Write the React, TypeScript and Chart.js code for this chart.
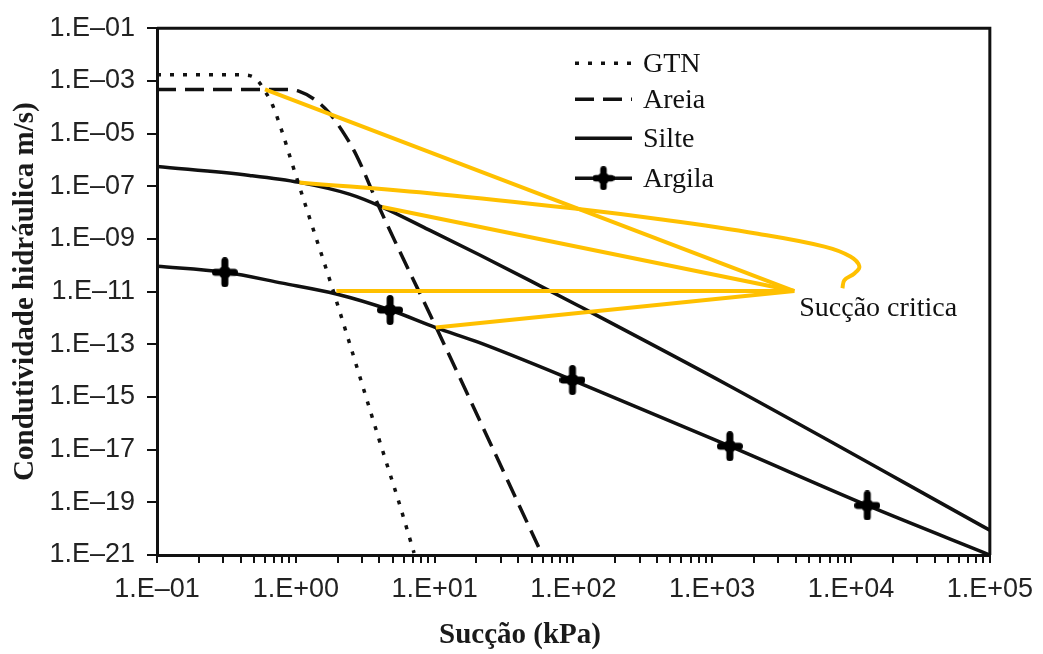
import { useEffect, useRef } from 'react';
import { Chart, registerables } from 'chart.js';

Chart.register(...registerables);

// Suction (kPa) and hydraulic conductivity (m/s)
const gtnSuction = [0.1, 0.363, 0.465, 0.531, 0.596, 0.681, 0.802, 0.946, 1.25, 1.75, 2.43, 3.98, 5.54, 7.11];
const gtnK = [1.72e-3, 1.72e-3, 1.58e-3, 1.03e-3, 4.3e-4, 1.18e-4, 1.05e-5, 6.6e-7, 6.8e-9, 2.95e-11, 1.17e-13, 2.45e-17, 9.8e-20, 1.2e-21];

const areiaSuction = [0.1, 0.83, 1.06, 1.36, 1.75, 2.16, 2.72, 3.98, 11.3, 56.1];
const areiaK = [4.72e-4, 4.72e-4, 4.0e-4, 2.0e-4, 5.9e-5, 1.26e-5, 1.58e-6, 1.62e-8, 1.5e-13, 2.0e-21];

const silteSuction = [0.1, 0.465, 1.06, 2.43, 4.19, 9.1, 20.8, 47.5, 108.7, 1294, 100000];
const silteK = [5.6e-7, 2.57e-7, 1.4e-7, 5.0e-8, 1.62e-8, 2.2e-9, 2.55e-10, 2.8e-11, 2.9e-12, 2.85e-15, 8.7e-21];

const argilaSuction = [0.1, 0.308, 0.8, 1.96, 4.78, 10.2, 20.8, 98.4, 1340, 13100, 100000];
const argilaK = [9.1e-11, 5.4e-11, 2.1e-11, 8.1e-12, 2.0e-12, 4.3e-13, 1.17e-13, 4.4e-15, 1.35e-17, 7.6e-20, 1e-21];

// Measured points on the clay curve
const argilaMarkSuction = [0.308, 4.78, 98.4, 1340, 13100];
const argilaMarkK = [5.4e-11, 2.0e-12, 4.4e-15, 1.35e-17, 7.6e-20];

// Critical suction: the point where the highlighted lines meet
const criticalSuction = 3900;
const criticalK = 1.05e-11;
const criticalFromSuction = [0.6, 4.19, 1.96, 10.2];
const criticalFromK = [4.72e-4, 1.62e-8, 1.05e-11, 4.3e-13];

// Hand-drawn curved pointer that ends next to the label
const hookSuction = [1.06, 10.7, 108.7, 407, 2128, 6440, 9890, 11480, 10570, 8950, 8670];
const hookK = [1.4e-7, 5.0e-8, 1.36e-8, 5.7e-9, 1.57e-9, 5.1e-10, 2.15e-10, 9.1e-11, 4.9e-11, 2.7e-11, 1.35e-11];

// Axis tick exponents
const kTickExponents = [-1, -3, -5, -7, -9, -11, -13, -15, -17, -19, -21];
const suctionDecades = [-1, 0, 1, 2, 3, 4, 5];

const legendLabels = ['GTN', 'Areia', 'Silte', 'Argila'];

const INK = '#111111';
const HIGHLIGHT = '#FFC000';
const CURVE_WIDTH = 3.5;
const DOTTED = [4, 9];
const DASHED = [19, 9];

const sciLabel = (exp: number) =>
  '1.E' + (exp < 0 ? '–' : '+') + String(Math.abs(exp)).padStart(2, '0');

const pairs = (xs: number[], ys: number[]) => xs.map((x, i) => ({ x, y: ys[i] }));

function plusMarker(w: number, h: number, bar: number) {
  const c = document.createElement('canvas');
  c.width = w;
  c.height = h;
  const g = c.getContext('2d')!;
  g.strokeStyle = '#000';
  g.fillStyle = '#000';
  g.lineCap = 'round';
  g.lineWidth = bar;
  g.beginPath();
  g.moveTo(w / 2, bar / 2);
  g.lineTo(w / 2, h - bar / 2);
  g.moveTo(bar / 2, h / 2);
  g.lineTo(w - bar / 2, h / 2);
  g.stroke();
  g.beginPath();
  g.arc(w / 2, h / 2, bar * 0.9, 0, Math.PI * 2);
  g.fill();
  return c;
}

export default function App() {
  const canvasRef = useRef<HTMLCanvasElement | null>(null);

  useEffect(() => {
    document.body.style.margin = '0';
    const canvas = canvasRef.current;
    if (!canvas) return;

    const marker = plusMarker(26, 30, 7);
    const legendMarker = plusMarker(22, 24, 6.5);

    const criticalLines = criticalFromSuction.map((s, i) => ({
      type: 'line' as const,
      data: [
        { x: s, y: criticalFromK[i] },
        { x: criticalSuction, y: criticalK },
      ],
      borderColor: HIGHLIGHT,
      borderWidth: 4,
      pointRadius: 0,
      order: 0,
    }));

    const decorations = {
      id: 'decorations',
      afterDraw(chart: any) {
        const { ctx, chartArea: a } = chart;
        ctx.save();

        // top and right edges of the plot frame
        ctx.strokeStyle = INK;
        ctx.lineWidth = 3;
        ctx.beginPath();
        ctx.moveTo(a.left, a.top);
        ctx.lineTo(a.right, a.top);
        ctx.lineTo(a.right, a.bottom);
        ctx.stroke();

        // legend
        const rows = [35, 71, 110, 150];
        const x0 = a.left + 418;
        const x1 = a.left + 475;
        ctx.font = '28px "Liberation Serif", "Times New Roman", serif';
        ctx.textAlign = 'left';
        ctx.textBaseline = 'alphabetic';
        legendLabels.forEach((label, i) => {
          const y = a.top + rows[i];
          ctx.strokeStyle = INK;
          ctx.lineWidth = CURVE_WIDTH;
          ctx.setLineDash(i === 0 ? DOTTED : i === 1 ? DASHED : []);
          ctx.beginPath();
          ctx.moveTo(x0, y);
          ctx.lineTo(x1, y);
          ctx.stroke();
          ctx.setLineDash([]);
          if (i === 3) {
            ctx.drawImage(legendMarker, (x0 + x1) / 2 - legendMarker.width / 2, y - legendMarker.height / 2);
          }
          ctx.fillStyle = INK;
          ctx.fillText(label, x1 + 11, y + 9);
        });

        // critical suction label
        const px = chart.scales.x.getPixelForValue(criticalSuction);
        const py = chart.scales.y.getPixelForValue(criticalK);
        ctx.fillText('Sucção critica', px + 5, py + 25);

        // axis titles
        ctx.fillStyle = '#1a1a1a';
        ctx.font = 'bold 29px "Liberation Serif", "Times New Roman", serif';
        ctx.textAlign = 'center';
        ctx.fillText('Sucção (kPa)', 520, 643);

        ctx.translate(33, (a.top + a.bottom) / 2);
        ctx.rotate(-Math.PI / 2);
        ctx.fillText('Condutividade hidráulica m/s)', 0, 0);

        ctx.restore();
      },
    };

    const tickFont = { family: '"Liberation Sans", Arial, Helvetica, sans-serif', size: 27 };

    const chart = new Chart(canvas, {
      type: 'line',
      data: {
        datasets: [
          ...criticalLines,
          {
            data: pairs(hookSuction, hookK),
            borderColor: HIGHLIGHT,
            borderWidth: 4,
            pointRadius: 0,
            tension: 0.4,
            order: 0,
          },
          {
            data: pairs(argilaMarkSuction, argilaMarkK),
            showLine: false,
            pointStyle: marker,
            pointRadius: 12,
            order: -1,
          },
          {
            label: 'GTN',
            data: pairs(gtnSuction, gtnK),
            borderColor: INK,
            borderWidth: CURVE_WIDTH,
            borderDash: DOTTED,
            pointRadius: 0,
            cubicInterpolationMode: 'monotone',
            order: 1,
          },
          {
            label: 'Areia',
            data: pairs(areiaSuction, areiaK),
            borderColor: INK,
            borderWidth: CURVE_WIDTH,
            borderDash: DASHED,
            pointRadius: 0,
            cubicInterpolationMode: 'monotone',
            order: 1,
          },
          {
            label: 'Silte',
            data: pairs(silteSuction, silteK),
            borderColor: INK,
            borderWidth: CURVE_WIDTH,
            pointRadius: 0,
            cubicInterpolationMode: 'monotone',
            order: 1,
          },
          {
            label: 'Argila',
            data: pairs(argilaSuction, argilaK),
            borderColor: INK,
            borderWidth: CURVE_WIDTH,
            pointRadius: 0,
            cubicInterpolationMode: 'monotone',
            order: 1,
          },
        ] as any,
      },
      options: {
        animation: false,
        responsive: true,
        maintainAspectRatio: false,
        events: [],
        layout: { padding: { top: 22, right: 50, left: 0, bottom: 0 } },
        plugins: {
          legend: { display: false },
          tooltip: { enabled: false },
        },
        scales: {
          x: {
            type: 'logarithmic',
            min: 0.1,
            max: 1e5,
            afterFit: (s: any) => {
              s.height = 99;
            },
            afterBuildTicks: (s: any) => {
              const ticks: { value: number }[] = [];
              suctionDecades.slice(0, -1).forEach((e) => {
                for (let m = 1; m <= 9; m++) ticks.push({ value: m * Math.pow(10, e) });
              });
              ticks.push({ value: Math.pow(10, suctionDecades[suctionDecades.length - 1]) });
              s.ticks = ticks;
            },
            ticks: {
              autoSkip: false,
              maxRotation: 0,
              padding: 10,
              color: '#222',
              font: tickFont,
              callback: (v: any) => {
                const e = Math.log10(Number(v));
                const r = Math.round(e);
                return Math.abs(e - r) < 1e-9 ? sciLabel(r) : '';
              },
            },
            grid: { drawOnChartArea: false, drawTicks: true, tickLength: 8, color: INK, lineWidth: 2 },
            border: { display: true, color: INK, width: 3 },
          },
          y: {
            type: 'logarithmic',
            min: 1e-21,
            max: 1e-1,
            afterFit: (s: any) => {
              s.width = 157;
            },
            afterBuildTicks: (s: any) => {
              s.ticks = kTickExponents.map((e) => ({ value: Math.pow(10, e) }));
            },
            ticks: {
              autoSkip: false,
              padding: 12,
              color: '#222',
              font: tickFont,
              callback: (v: any) => sciLabel(Math.round(Math.log10(Number(v)))),
            },
            grid: { drawOnChartArea: false, drawTicks: true, tickLength: 10, color: INK, lineWidth: 2 },
            border: { display: true, color: INK, width: 3 },
          },
        },
      } as any,
      plugins: [decorations],
    });

    return () => chart.destroy();
  }, []);

  return (
    <div style={{ position: 'fixed', left: 0, top: 0, width: 1043, height: 654, background: '#fff' }}>
      <canvas ref={canvasRef} />
    </div>
  );
}
